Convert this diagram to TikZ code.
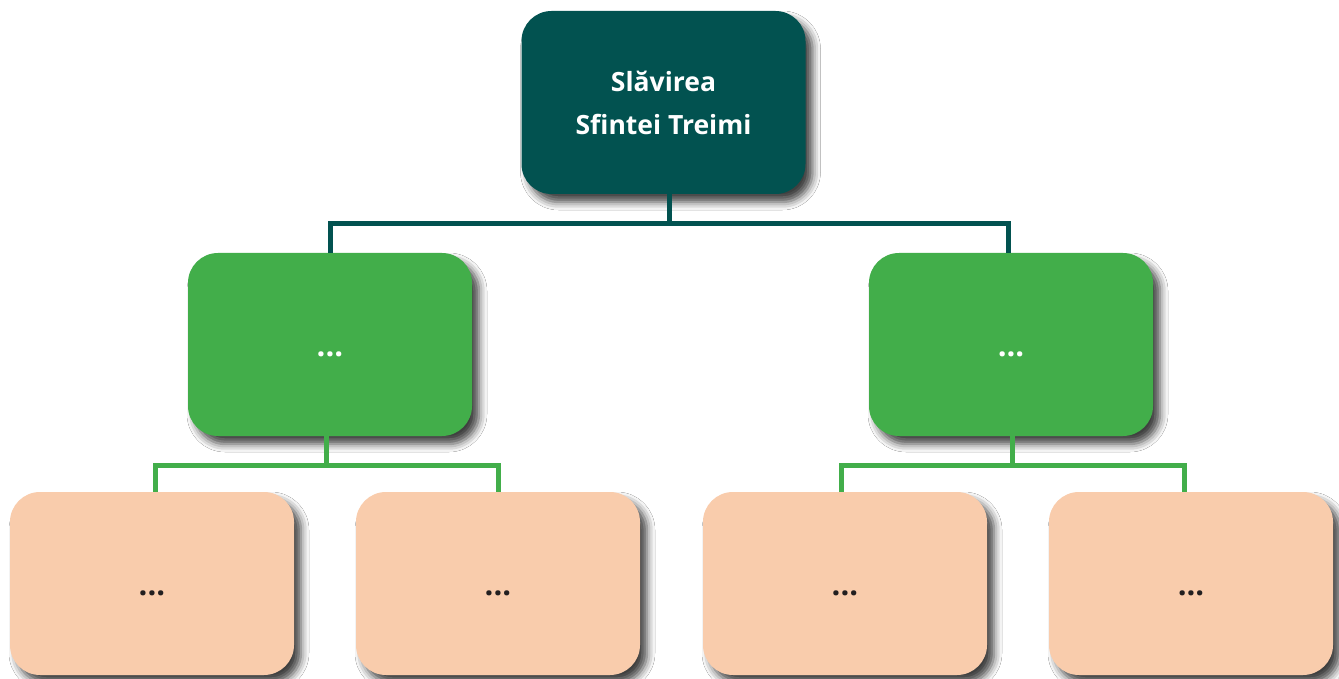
\documentclass[tikz,border=0pt]{standalone}
\usepackage{fontspec}
\setmainfont{Open Sans}
\usetikzlibrary{shadows.blur}
\definecolor{teal1}{RGB}{2,82,80}
\definecolor{green1}{RGB}{66,174,74}
\definecolor{peach1}{RGB}{249,204,172}
\definecolor{dots1}{RGB}{35,31,32}
\newcommand{\dotsx}{{\fontsize{31}{31}\selectfont\vphantom{Sf}...}}
\tikzset{
  box/.style={rounded corners=30pt, minimum width=284pt, minimum height=183pt,
    inner sep=0pt, align=center, font=\fontsize{26.5}{43}\selectfont\bfseries,
    blur shadow={shadow xshift=7pt, shadow yshift=-8pt, shadow blur radius=8pt, shadow opacity=75}},
  topbox/.style={box, fill=teal1, text=white},
  midbox/.style={box, fill=green1, text=white},
  lowbox/.style={box, fill=peach1, text=dots1},
  tline/.style={draw=teal1, line width=5pt},
  gline/.style={draw=green1, line width=5pt},
}
\begin{document}
\begin{tikzpicture}[x=1pt,y=-1pt]
\useasboundingbox[fill=white] (0,0) rectangle (1339,679);
\coordinate (tbar) at (669,224);
\coordinate (lbar) at (326,465);
\coordinate (rbar) at (1012,465);
\node[topbox] (top) at (663.5,102.5) {Slăvirea\\Sfintei Treimi};
\node[midbox] (gl) at (330,344.5) {\dotsx};
\node[midbox] (gr) at (1011,344.5) {\dotsx};
\node[lowbox] (b1) at (152,583.5) {\dotsx};
\node[lowbox] (b2) at (498,583.5) {\dotsx};
\node[lowbox] (b3) at (845,583.5) {\dotsx};
\node[lowbox] (b4) at (1191,583.5) {\dotsx};
\draw[tline] ([xshift=5.5pt]top.south) -- (tbar);
\draw[tline] (tbar) -| (gl.north);
\draw[tline] (tbar) -| ([xshift=-3pt]gr.north);
\draw[gline] ([xshift=-4pt]gl.south) -- (lbar);
\draw[gline] (lbar) -| ([xshift=3pt]b1.north);
\draw[gline] (lbar) -| (b2.north);
\draw[gline] ([xshift=1pt]gr.south) -- (rbar);
\draw[gline] (rbar) -| ([xshift=-4pt]b3.north);
\draw[gline] (rbar) -| ([xshift=-7pt]b4.north);
\end{tikzpicture}
\end{document}
